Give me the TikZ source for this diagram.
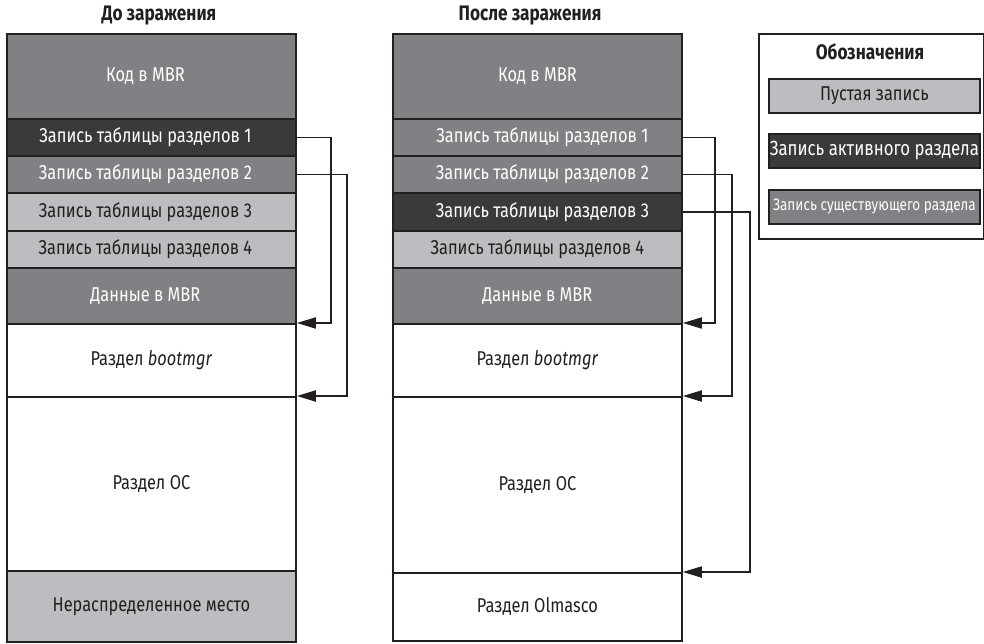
\documentclass[tikz,border=0pt]{standalone}
\usepackage{fontspec}
\setmainfont[FakeStretch=0.82]{Fira Sans}
\usetikzlibrary{arrows.meta}
\definecolor{midC}{HTML}{808184}
\definecolor{darkC}{HTML}{3A3A3B}
\definecolor{lightC}{HTML}{BCBDC0}
\definecolor{lineC}{HTML}{231F20}
\newcommand{\shl}{\hspace*{-12pt}}
\newcommand{\shr}{\hspace*{10pt}}
\begin{document}
\begin{tikzpicture}[x=1pt,y=-1pt,
  cell/.style={draw=lineC, line width=1.8pt, anchor=north west, inner sep=0pt, minimum width=289pt, font=\fontsize{20}{22}\selectfont},
  midcell/.style={cell, fill=midC, text=white},
  darkcell/.style={cell, fill=darkC, text=white},
  lightcell/.style={cell, fill=lightC, text=lineC},
  whitecell/.style={cell, fill=white, text=lineC},
  conn/.style={draw=lineC, line width=1.8pt, -{Triangle[length=19pt,width=11pt]}},
  title/.style={font=\fontsize{21}{23}\selectfont\bfseries, text=lineC},
  leg/.style={draw=lineC, line width=1.8pt, anchor=north west, inner sep=0pt, minimum width=211pt, minimum height=34pt}]
\useasboundingbox (0,0) rectangle (984,643);
% titles
\node[title] (t1) at (159,16) {До заражения};
\node[title] (t2) at (530,16) {После заражения};
% left column
\node[midcell, minimum height=85pt] (L0) at (6,33) {\shl Код в MBR};
\node[darkcell, minimum height=37pt] (L1) at (6,118) {\shl Запись таблицы разделов 1};
\node[midcell, minimum height=37pt] (L2) at (6,155) {\shl Запись таблицы разделов 2};
\node[lightcell, minimum height=38pt] (L3) at (6,192) {\shl Запись таблицы разделов 3};
\node[lightcell, minimum height=37pt] (L4) at (6,230) {\shl Запись таблицы разделов 4};
\node[midcell, minimum height=56pt] (L5) at (6,267) {\shl Данные в MBR};
\node[whitecell, minimum height=73pt] (L6) at (6,323) {Раздел \textit{bootmgr}};
\node[whitecell, minimum height=174pt] (L7) at (6,396) {Раздел ОС};
\node[lightcell, minimum height=71pt] (L8) at (6,570) {Нераспределенное место};
% right column
\node[midcell, minimum height=85pt] (R0) at (392,33) {Код в MBR};
\node[midcell, minimum height=37pt] (R1) at (392,118) {\shr Запись таблицы разделов 1};
\node[midcell, minimum height=37pt] (R2) at (392,155) {\shr Запись таблицы разделов 2};
\node[darkcell, minimum height=38pt] (R3) at (392,192) {\shr Запись таблицы разделов 3};
\node[lightcell, minimum height=37pt] (R4) at (392,230) {Запись таблицы разделов 4};
\node[midcell, minimum height=56pt] (R5) at (392,267) {Данные в MBR};
\node[whitecell, minimum height=73pt] (R6) at (392,323) {Раздел \textit{bootmgr}};
\node[whitecell, minimum height=176pt] (R7) at (392,396) {Раздел ОС};
\node[whitecell, minimum height=68pt] (R8) at (392,572) {Раздел Olmasco};
% connectors left
\draw[conn] (L1.east) -- ++(34,0) |- (L6.north east);
\draw[conn] (L2.east) -- ++(50,0) |- (L7.north east);
% connectors right
\draw[conn] (R1.east) -- ++(32,0) |- (R6.north east);
\draw[conn] (R2.east) -- ++(49,0) |- (R7.north east);
\draw[conn] (R3.east) -- ++(67,0) |- (R8.north east);
% legend
\node[draw=lineC, line width=1.8pt, anchor=north west, minimum width=225pt, minimum height=205pt, inner sep=0pt] (LG) at (758,33) {};
\node[title] (LT) at (870,52) {Обозначения};
\node[leg, fill=lightC, text=lineC, font=\fontsize{20}{22}\selectfont] (G1) at (768,78) {Пустая запись};
\node[leg, fill=darkC, text=white, font=\fontsize{20.5}{22}\selectfont] (G2) at (768,133) {Запись активного раздела};
\node[leg, fill=midC, text=white, font=\fontsize{16.5}{18}\selectfont] (G3) at (768,189) {Запись существующего раздела};
\end{tikzpicture}
\end{document}
